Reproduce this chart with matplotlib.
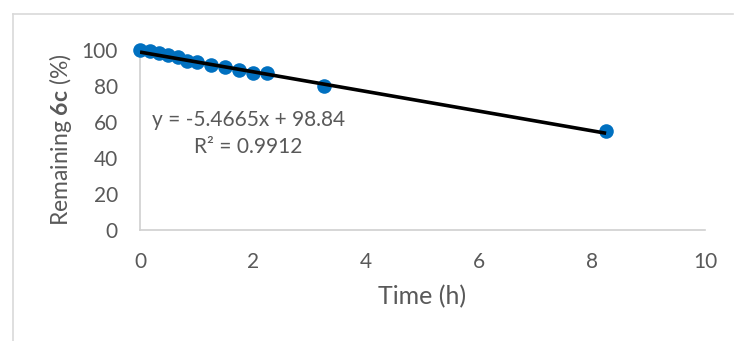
import matplotlib
matplotlib.use("Agg")
import matplotlib.pyplot as plt
import numpy as np
from matplotlib.lines import Line2D

time_h = [0, 0.17, 0.33, 0.5, 0.67, 0.83, 1.0, 1.25, 1.5, 1.75, 2.0, 2.25, 3.25, 8.25]
remaining = [100, 99.5, 98.5, 97.5, 96, 94, 93.5, 91.5, 90.5, 89, 87.5, 87.5, 80, 55]
slope = -5.4665
intercept = 98.84
r2 = 0.9912
x_ticks = [0, 2, 4, 6, 8, 10]
y_ticks = [0, 20, 40, 60, 80, 100]

plt.rcParams['font.family'] = ['Lato', 'DejaVu Sans']
plt.rcParams['mathtext.fontset'] = 'custom'
plt.rcParams['mathtext.rm'] = 'Lato'
plt.rcParams['mathtext.bf'] = 'Lato:bold'
grey = '#595959'
fs = 15

fig = plt.figure(figsize=(7.34, 3.41), dpi=100)
W, H = 734, 341
ax = fig.add_axes([140 / W, 1 - 230 / H, (705 - 140) / W, (230 - 50) / H])

ax.scatter(time_h, remaining, s=110, color='#0070C0', zorder=3, clip_on=False, linewidths=0)
xs = np.array([min(time_h), max(time_h)])
ax.plot(xs, slope * xs + intercept, color='black', lw=2.6, zorder=4, solid_capstyle='butt')

ax.set_xlim(0, 10)
ax.set_ylim(0, 100)
ax.set_xticks(x_ticks)
ax.set_yticks(y_ticks)
ax.tick_params(axis='y', length=0, labelsize=fs, colors=grey, pad=16)
ax.tick_params(axis='x', length=0, labelsize=fs, colors=grey, pad=16)
for s in ['top', 'right']:
    ax.spines[s].set_visible(False)
for s in ['left', 'bottom']:
    ax.spines[s].set_color('#d0d0d0')
    ax.spines[s].set_linewidth(1.2)

ax.set_xlabel('Time (h)', fontsize=18, color=grey, labelpad=9)
ax.set_ylabel(r'Remaining $\mathbf{6c}$ (%)', fontsize=16.5, color=grey, labelpad=5)

fig.text(249 / W, 1 - 120 / H, f'y = {slope}x + {intercept}', fontsize=fs, color=grey,
         ha='center', va='center')
fig.text(248 / W, 1 - 147 / H, f'R² = {r2}', fontsize=fs, color=grey,
         ha='center', va='center')

# chart area border
bc = '#d9d9d9'
fig.add_artist(Line2D([12.5 / W, 12.5 / W], [0, 1 - 14 / H], color=bc, lw=1.2, transform=fig.transFigure))
fig.add_artist(Line2D([12.5 / W, 733 / W], [1 - 14 / H, 1 - 14 / H], color=bc, lw=1.2, transform=fig.transFigure))

fig.savefig('out.png', dpi=100)
